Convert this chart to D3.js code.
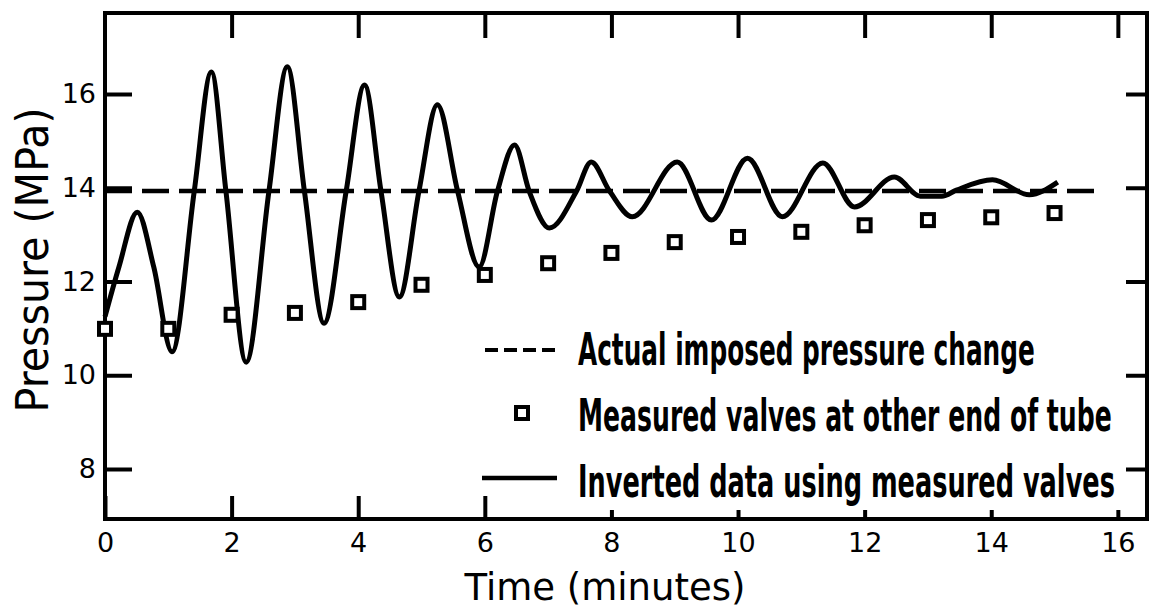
<!DOCTYPE html>
<html>
<head>
<meta charset="utf-8">
<script src="https://cdn.jsdelivr.net/npm/d3@7"></script>
<style>
  body { margin: 0; background: #fff; }
  svg { display: block; }
</style>
</head>
<body>
<div id="graph"></div>
<script>
var width = 1149;
var height = 615;

// tick values
var xTicks = [0, 2, 4, 6, 8, 10, 12, 14, 16];
var yTicks = [8, 10, 12, 14, 16];

// actual imposed pressure (dashed)
var imposedTime = [0, 15.75];
var imposedPressure = [13.93, 13.93];

// measured values at other end of tube (squares)
var measuredTime = [0, 1, 2, 3, 4, 5, 6, 7, 8, 9, 10, 11, 12, 13, 14, 15];
var measuredPressure = [10.99, 10.99, 11.29, 11.33, 11.56, 11.93, 12.14, 12.39, 12.61, 12.84, 12.95, 13.06, 13.2, 13.31, 13.37, 13.46];

// inverted data (solid line)
var invertedTime = [0, 0.22, 0.51, 0.77, 1.06, 1.41, 1.68, 1.91, 2.23, 2.59, 2.88, 3.15, 3.46, 3.81, 4.10, 4.36, 4.65, 4.96, 5.25, 5.57, 5.91, 6.20, 6.47, 6.70, 7.02, 7.45, 7.68, 7.97, 8.33, 9.04, 9.58, 10.15, 10.70, 11.34, 11.84, 12.47, 12.88, 13.22, 13.45, 14.02, 14.6, 15.05];
var invertedPressure = [11.25, 12.31, 13.48, 12.31, 10.5, 13.93, 16.47, 13.93, 10.28, 13.93, 16.58, 13.93, 11.11, 13.93, 16.19, 13.93, 11.67, 13.93, 15.77, 13.93, 12.31, 13.93, 14.91, 13.93, 13.14, 13.93, 14.55, 13.93, 13.38, 14.55, 13.31, 14.63, 13.38, 14.53, 13.59, 14.23, 13.82, 13.82, 13.95, 14.17, 13.85, 14.12];

var legendLabels = ["Actual imposed pressure change", "Measured valves at other end of tube", "Inverted data using measured valves"];

var svg = d3.select("#graph")
    .append("svg")
    .attr("width", width)
    .attr("height", height);

var x = d3.scaleLinear().domain([0, 16.5]).range([105, 1149.5]);
var y = d3.scaleLinear().domain([8, 16]).range([469, 94]);

var x0 = x(0), x1 = 1147, yTop = 13, yBot = 519;

// squeeze a text horizontally to a given width, keeping its left or centre
function fitWidth(sel, w, anchorX, rowY, rotate) {
  sel.each(function() {
    var n = this.getComputedTextLength();
    var sx = w / n;
    if (rotate) {
      d3.select(this).attr("transform", "translate(" + anchorX + "," + rowY + ") rotate(-90) scale(" + sx + ",1)");
    } else {
      d3.select(this).attr("transform", "translate(" + anchorX + "," + rowY + ") scale(" + sx + ",1)");
    }
  });
}

// frame
svg.append("g")
    .selectAll("line")
    .data([[x0, yTop, x1, yTop], [x0, yBot, x1, yBot], [x0, yTop, x0, yBot], [x1, yTop, x1, yBot]])
    .enter().append("line")
    .attr("x1", function(d) { return d[0]; })
    .attr("y1", function(d) { return d[1]; })
    .attr("x2", function(d) { return d[2]; })
    .attr("y2", function(d) { return d[3]; })
    .style("stroke", "#000")
    .style("stroke-width", 4)
    .style("stroke-linecap", "square");

function styleAxis(g) {
  g.select(".domain").remove();
  g.selectAll(".tick line").style("stroke", "#000").style("stroke-width", 4);
  g.selectAll(".tick text")
      .attr("fill", "#000")
      .attr("font-family", "DejaVu Sans, sans-serif")
      .attr("font-size", 27);
}

// bottom axis
var bottom = svg.append("g")
    .attr("transform", "translate(0," + yBot + ")")
    .call(d3.axisBottom(x).tickValues(xTicks).tickSizeInner(-23).tickSizeOuter(0))
    .call(styleAxis);
bottom.selectAll(".tick line").attr("y2", function(d) { return d >= 8 ? -9 : -23; });
bottom.selectAll(".tick text").attr("dy", "0.71em").attr("y", 14);

// top axis
svg.append("g")
    .attr("transform", "translate(0," + yTop + ")")
    .call(d3.axisTop(x).tickValues(xTicks.slice(1)).tickSizeInner(-25).tickSizeOuter(0).tickFormat(""))
    .call(styleAxis);

// left axis
var left = svg.append("g")
    .attr("transform", "translate(" + x0 + ",0)")
    .call(d3.axisLeft(y).tickValues(yTicks).tickSizeInner(-27).tickSizeOuter(0))
    .call(styleAxis);
left.selectAll(".tick text").attr("x", -9);

// right axis
svg.append("g")
    .attr("transform", "translate(" + x1 + ",0)")
    .call(d3.axisRight(y).tickValues(yTicks).tickSizeInner(-21).tickSizeOuter(0).tickFormat(""))
    .call(styleAxis);

// axis titles
svg.append("text")
    .attr("x", 605)
    .attr("y", 600)
    .attr("text-anchor", "middle")
    .attr("font-family", "DejaVu Sans, sans-serif")
    .attr("font-size", 37)
    .text("Time (minutes)");

svg.append("text")
    .attr("text-anchor", "middle")
    .attr("font-family", "DejaVu Sans, sans-serif")
    .attr("font-size", 44)
    .text("Pressure (MPa)")
    .call(fitWidth, 305, 48, 260, true);

// dashed imposed line
var line = d3.line()
    .x(function(d) { return x(d[0]); })
    .y(function(d) { return y(d[1]); });

svg.append("path")
    .datum(d3.zip(imposedTime, imposedPressure))
    .attr("d", line)
    .attr("fill", "none")
    .attr("stroke", "#000")
    .attr("stroke-width", 4.5)
    .attr("stroke-dasharray", "27,10");

// inverted curve
svg.append("path")
    .datum(d3.zip(invertedTime, invertedPressure))
    .attr("d", line.curve(d3.curveMonotoneX))
    .attr("fill", "none")
    .attr("stroke", "#000")
    .attr("stroke-width", 5)
    .attr("stroke-linejoin", "round");

// measured squares
svg.append("g")
    .selectAll("rect")
    .data(d3.zip(measuredTime, measuredPressure))
    .enter().append("rect")
    .attr("x", function(d) { return x(d[0]) - 6; })
    .attr("y", function(d) { return y(d[1]) - 6; })
    .attr("width", 12)
    .attr("height", 12)
    .attr("fill", "#fff")
    .attr("stroke", "#000")
    .attr("stroke-width", 4);

// legend
var legend = svg.append("g");
var rowY = [365, 431, 497];
var rowW = [457, 534, 537];

legend.append("line")
    .attr("x1", 485).attr("x2", 557)
    .attr("y1", rowY[0] - 15).attr("y2", rowY[0] - 15)
    .attr("stroke", "#000").attr("stroke-width", 4)
    .attr("stroke-dasharray", "13,6");

legend.append("rect")
    .attr("x", 516).attr("y", rowY[1] - 24)
    .attr("width", 12).attr("height", 12)
    .attr("fill", "#fff").attr("stroke", "#000").attr("stroke-width", 4);

legend.append("line")
    .attr("x1", 482).attr("x2", 557)
    .attr("y1", rowY[2] - 19).attr("y2", rowY[2] - 19)
    .attr("stroke", "#000").attr("stroke-width", 4.5);

legendLabels.forEach(function(label, i) {
  legend.append("text")
      .attr("font-family", "DejaVu Sans Condensed, DejaVu Sans, sans-serif")
      .attr("font-weight", "bold")
      .attr("font-size", 44)
      .text(label)
      .call(fitWidth, rowW[i], 578, rowY[i], false);
});
</script>
</body>
</html>
